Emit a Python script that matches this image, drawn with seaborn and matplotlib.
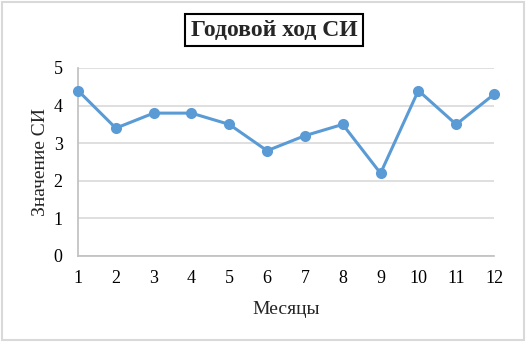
import matplotlib
matplotlib.use("Agg")
import matplotlib.pyplot as plt
import seaborn as sns
import pandas as pd
from matplotlib.patches import Rectangle

months = [1, 2, 3, 4, 5, 6, 7, 8, 9, 10, 11, 12]
values = [4.4, 3.4, 3.8, 3.8, 3.5, 2.8, 3.2, 3.5, 2.2, 4.4, 3.5, 4.3]
yticks = [0, 1, 2, 3, 4, 5]

sns.set_style("white")
plt.rcParams['font.family'] = ['Liberation Serif', 'DejaVu Serif']

df = pd.DataFrame({"Месяцы": months, "Значение СИ": values})

fig = plt.figure(figsize=(5.26, 3.42), dpi=100)
ax = fig.add_axes([78/526, 1-256/342, (494-78)/526, (256-68)/342])

color = "#5B9BD5"
sns.lineplot(data=df, x="Месяцы", y="Значение СИ", ax=ax, color=color,
             linewidth=2.2, marker="o", markersize=8, markeredgewidth=0,
             clip_on=False, zorder=3)

ax.set_xlim(1, 12)
ax.set_ylim(0, 5)
ax.set_xticks(months)
ax.set_yticks(yticks)
ax.grid(axis="y", color="#D9D9D9", linewidth=1.2)
ax.set_axisbelow(True)
for s in ["top", "right"]:
    ax.spines[s].set_visible(False)
for s in ["left", "bottom"]:
    ax.spines[s].set_color("#BFBFBF")
    ax.spines[s].set_linewidth(1.2)
ax.tick_params(axis="both", length=0, labelsize=13, colors="black")
ax.tick_params(axis="x", pad=10)
ax.tick_params(axis="y", pad=11)
ax.set_xlabel("Месяцы", fontsize=14, labelpad=10)
ax.set_ylabel("Значение СИ", fontsize=14, labelpad=3)

fig.text(274/526, 1-30/342, "Годовой ход СИ", ha="center", va="center",
         fontsize=17, fontweight="bold",
         bbox=dict(boxstyle="square,pad=0.25", facecolor="white",
                   edgecolor="black", linewidth=1.5))

fig.patches.append(Rectangle((2/526, 2/342), 1-4/526, 1-4/342,
                             transform=fig.transFigure, fill=False,
                             edgecolor="#D9D9D9", linewidth=1.5))

fig.savefig("out.png", dpi=100)
